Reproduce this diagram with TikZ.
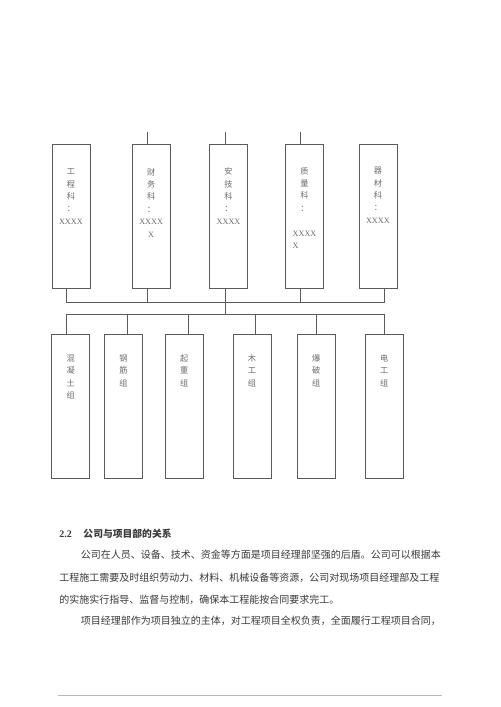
\documentclass[tikz,border=0pt]{standalone}
\usepackage{fontspec}
\setmainfont{Liberation Serif}
\newfontfamily\cjk{Noto Sans CJK SC}
\definecolor{lgray}{HTML}{5A5A5A}
\definecolor{tgray}{HTML}{6A6A6A}

\begin{document}
\begin{tikzpicture}[x=0.42mm, y=-0.42mm,
    dept/.style={draw=lgray, line width=0.6pt, minimum width=15.96mm, minimum height=60.48mm, inner sep=0pt},
    deptlabel/.style={anchor=north, inner sep=0pt, align=center, text=tgray,
        font=\cjk\fontsize{9.8pt}{14.8pt}\selectfont},
    link/.style={draw=lgray, line width=0.5pt},
    bodytext/.style={anchor=base west, inner sep=0pt, text=black!78,
        font=\cjk\fontsize{11.95pt}{14pt}\selectfont}]
  \useasboundingbox (0,0) rectangle (500,707);

  % upper row
  \node[dept, label={[deptlabel, yshift=-10.4mm]north:工\\程\\科\\：\\{\rmfamily XXXX}}] (gck) at (70.85,216) {};
  \node[dept, label={[deptlabel, yshift=-10.2mm]north:财\\务\\科\\：\\{\rmfamily XXXX}\\{\rmfamily X}}] (cwk) at (151.15,216) {};
  \node[dept, label={[deptlabel, yshift=-10mm]north:安\\技\\科\\：\\{\rmfamily XXXX}}] (ajk) at (228.5,216) {};
  \node[dept, label={[deptlabel, yshift=-9.8mm]north:质\\量\\科\\：\\ \\{\rmfamily XXXX}\\{\rmfamily X\phantom{XXX}}}] (zlk) at (304.5,216) {};
  \node[dept, label={[deptlabel, yshift=-9.8mm]north:器\\材\\科\\：\\{\rmfamily XXXX}}] (qck) at (377.85,216) {};

  % lower row
  \node[dept, label={[deptlabel, yshift=-8.6mm]north:混\\凝\\土\\组}] (hntz) at (70.7,406.3) {};
  \node[dept, label={[deptlabel, yshift=-8.6mm]north:钢\\筋\\组}] (gjz) at (123.5,406.3) {};
  \node[dept, label={[deptlabel, yshift=-8.6mm]north:起\\重\\组}] (qzz) at (184.15,406.3) {};
  \node[dept, label={[deptlabel, yshift=-8.6mm]north:木\\工\\组}] (mgz) at (252,406.3) {};
  \node[dept, label={[deptlabel, yshift=-8.6mm]north:爆\\破\\组}] (bpz) at (316.3,406.3) {};
  \node[dept, label={[deptlabel, yshift=-8.6mm]north:电\\工\\组}] (dgz) at (384.3,406.3) {};

  % stubs above
  \draw[link] ([xshift=-1.62mm]cwk.north) -- ++(0,-12) coordinate (cwk top);
  \draw[link] ([xshift=-1.47mm]ajk.north) -- ++(0,-12) coordinate (ajk top);
  \draw[link] ([xshift=-1.76mm]zlk.north) -- ++(0,-12) coordinate (zlk top);

  % upper bus
  \draw[link] ([xshift=-1.74mm]gck.south) -- ++(0,13.7) -| ([xshift=2.71mm]qck.south);
  \draw[link] ([xshift=-1.62mm]cwk.south) -- ++(0,13.7);
  \draw[link] ([xshift=-1.76mm]zlk.south) -- ++(0,13.7);
  \draw[link] ([xshift=-1.47mm]ajk.south) -- ++(0,26.3);

  % lower bus
  \draw[link] ([xshift=-1.68mm]hntz.north) -- ++(0,-20) -| (dgz.north);
  \draw[link] ([xshift=1.6mm]gjz.north) -- ++(0,-20);
  \draw[link] ([xshift=1.62mm]qzz.north) -- ++(0,-20);
  \draw[link] ([xshift=1.55mm]mgz.north) -- ++(0,-20);
  \draw[link] (bpz.north) -- ++(0,-20);

  % text below
  \node[bodytext, font=\rmfamily\bfseries\fontsize{11.95pt}{14pt}\selectfont] (secno) at (59.3,537.8) {2.2};
  \node[bodytext, font=\cjk\bfseries\fontsize{11.7pt}{14pt}\selectfont] (sectitle) at (83.3,537.8) {公司与项目部的关系};
  \node[bodytext] (line1) at (80.7,558.8) {公司在人员、设备、技术、资金等方面是项目经理部坚强的后盾。公司可以根据本};
  \node[bodytext] (line2) at (59.3,581.5) {工程施工需要及时组织劳动力、材料、机械设备等资源，公司对现场项目经理部及工程};
  \node[bodytext] (line3) at (59.3,603.1) {的实施实行指导、监督与控制，确保本工程能按合同要求完工。};
  \node[bodytext] (line4) at (80.7,624.5) {项目经理部作为项目独立的主体，对工程项目全权负责，全面履行工程项目合同，};

  \draw[gray!55, line width=0.9pt] (58.3,695.7) -- (441.7,695.7);
\end{tikzpicture}
\end{document}
